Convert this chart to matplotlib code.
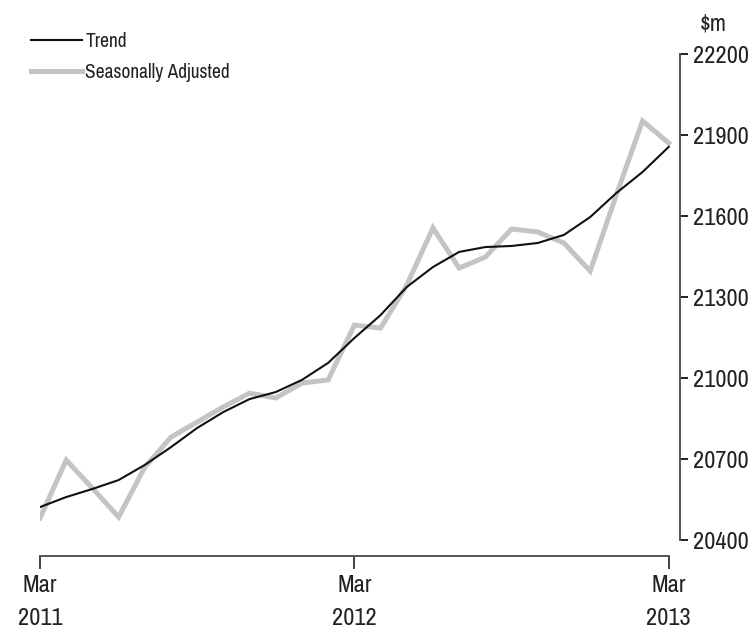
import matplotlib
matplotlib.use("Agg")
import matplotlib.pyplot as plt
import numpy as np

plt.rcParams['font.family'] = ['Archivo Narrow', 'Liberation Sans Narrow', 'Liberation Sans', 'DejaVu Sans']

# Monthly series, Mar 2011 .. Mar 2013 ($m)
months = ["Mar 2011", "Apr 2011", "May 2011", "Jun 2011", "Jul 2011", "Aug 2011",
          "Sep 2011", "Oct 2011", "Nov 2011", "Dec 2011", "Jan 2012", "Feb 2012",
          "Mar 2012", "Apr 2012", "May 2012", "Jun 2012", "Jul 2012", "Aug 2012",
          "Sep 2012", "Oct 2012", "Nov 2012", "Dec 2012", "Jan 2013", "Feb 2013",
          "Mar 2013"]
trend = [20522, 20559, 20589, 20622, 20678, 20744, 20815, 20874, 20922, 20948,
         20993, 21056, 21148, 21233, 21337, 21411, 21467, 21485, 21489, 21500,
         21530, 21596, 21685, 21763, 21856]
seas_adj = [20481, 20696, 20592, 20485, 20670, 20781, 20837, 20893, 20944, 20926,
            20981, 20993, 21196, 21185, 21344, 21556, 21407, 21448, 21552, 21541,
            21500, 21396, 21678, 21952, 21870]
x_tick_pos = [0, 12, 24]
x_tick_labels = ["Mar\n2011", "Mar\n2012", "Mar\n2013"]
y_ticks = [20400, 20700, 21000, 21300, 21600, 21900, 22200]

fig = plt.figure(figsize=(7.52, 6.33), dpi=100)
ax = fig.add_axes([40/752, 77/633, 640/752, 502/633])

x = np.arange(len(months))
ax.plot(x, seas_adj, color='#c4c4c4', lw=3.6, solid_joinstyle='miter', label='Seasonally Adjusted')
ax.plot(x, trend, color='#111111', lw=1.5, label='Trend')

ax.set_xlim(0, 24.43)
ax.set_ylim(20400 - 16/0.27, 22200)

axis_col = '#555555'
for s in ['top', 'left']:
    ax.spines[s].set_visible(False)
ax.spines['right'].set_bounds(20400, 22200)
ax.spines['bottom'].set_bounds(0, 24)
ax.spines['right'].set_color(axis_col)
ax.spines['bottom'].set_color(axis_col)
ax.spines['right'].set_linewidth(1.4)
ax.spines['bottom'].set_linewidth(1.4)

ax.yaxis.tick_right()
ax.set_yticks(y_ticks)
ax.set_yticklabels([str(v) for v in y_ticks])
ax.set_xticks(x_tick_pos)
ax.set_xticklabels(x_tick_labels, linespacing=1.7)
ax.tick_params(axis='y', direction='out', length=6, width=1.4, color='#222222',
               labelsize=17.5, pad=3, colors='#222222')
ax.tick_params(axis='x', direction='out', length=9, width=1.2, color='#222222',
               labelsize=17.5, pad=5, colors='#222222')

fig.text(713/752, 1 - 24/633, r'\$m', ha='center', va='center', fontsize=17, color='#222222')

handles, labels = ax.get_legend_handles_labels()
leg = ax.legend(handles[::-1], labels[::-1], loc='upper left',
                bbox_to_anchor=(31/752, 1 - 32/633), bbox_transform=fig.transFigure,
                frameon=False, fontsize=14, handlelength=2.6, handletextpad=0.2,
                labelspacing=0.6, borderaxespad=0, borderpad=0)
for t in leg.get_texts():
    t.set_color('#222222')

fig.savefig('out.png', dpi=100)
